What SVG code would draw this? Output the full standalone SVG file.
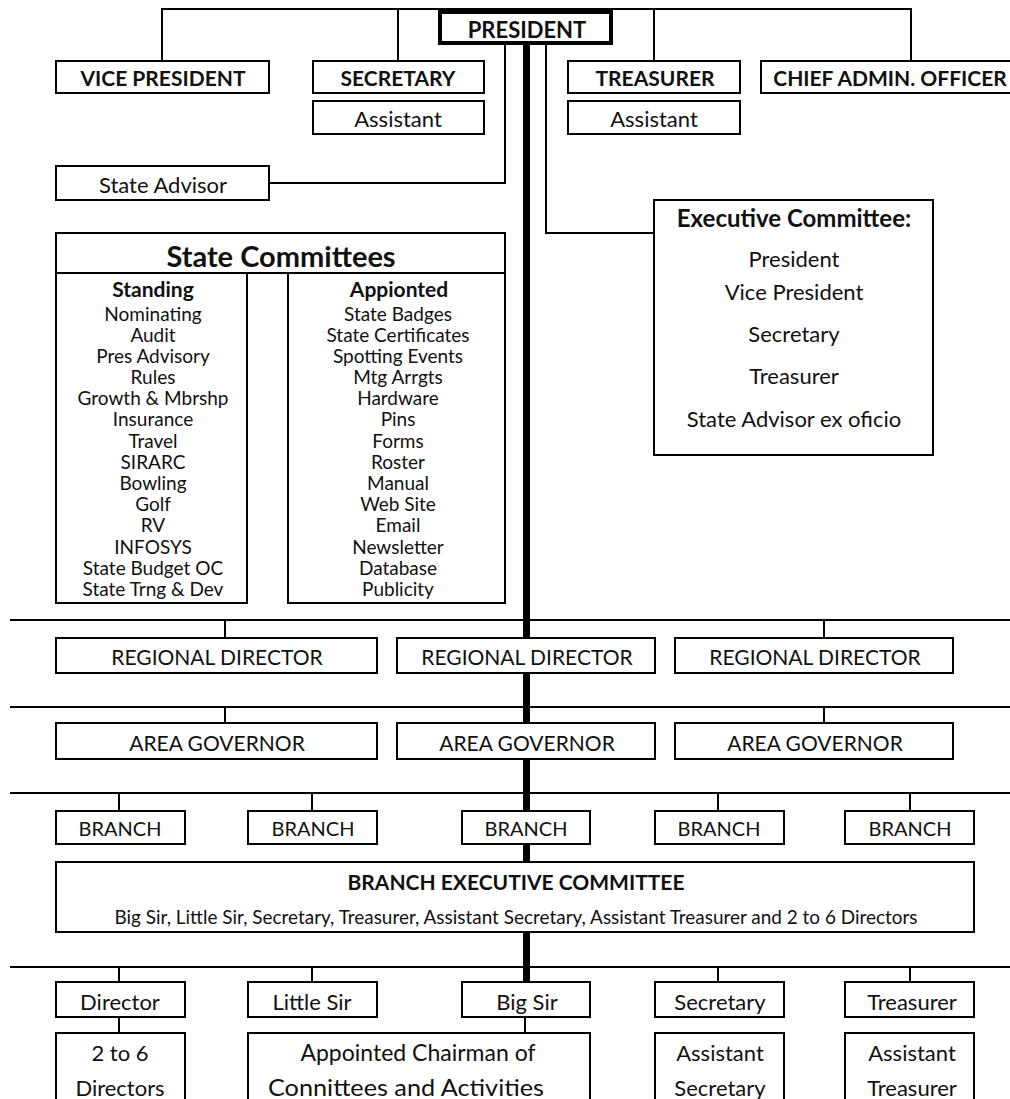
<svg xmlns="http://www.w3.org/2000/svg" width="1010" height="1099" viewBox="0 0 1010 1099">
<style>
text{font-family:Lato,"Liberation Sans",sans-serif;fill:#111;text-anchor:middle;dominant-baseline:central}
.box{fill:#fff;stroke:#000;stroke-width:2}
.ln{fill:none;stroke:#000;stroke-width:2}
.b{font-weight:bold;font-size:21px}
.r{font-size:22px}
.it{font-size:19px}
.cap{font-size:21px}
.br{font-size:20px}
.sm{font-size:19px}
.hd{font-weight:bold;font-size:21px}
</style>
<rect width="1010" height="1099" fill="#fff"/>
<g id="connectors">
<path class="ln" d="M162,61V9H911V61M398,9V61M654,9V61"/>
<path class="ln" d="M505,45V183H269M546,45V233H654"/>
<path class="ln" d="M10,620H1010M225,620V638M824,620V638"/>
<path class="ln" d="M10,707H1010M225,707V723M824,707V723"/>
<path class="ln" d="M10,793H1010M119,793V811M312,793V811M718,793V811M910,793V811"/>
<path class="ln" d="M10,967H1010M119,967V982M312,967V982M718,967V982M910,967V982"/>
<path class="ln" d="M119,1017V1033M525,1017V1033"/>
<rect x="523" y="45" width="7" height="938" fill="#000"/>
</g>
<g id="president"><rect x="440" y="12" width="171" height="31" fill="#fff" stroke="#000" stroke-width="4"/><text class="b" x="527" y="29" style="font-size:22px">PRESIDENT</text></g>
<g id="vice-president"><rect class="box" x="56" y="61" width="213" height="32"/><text class="b" x="163" y="77">VICE PRESIDENT</text></g>
<g id="secretary"><rect class="box" x="313" y="61" width="171" height="32"/><text class="b" x="398" y="77">SECRETARY</text></g>
<g id="secretary-assistant"><rect class="box" x="313" y="101" width="171" height="33"/><text class="r" x="398" y="118">Assistant</text></g>
<g id="treasurer"><rect class="box" x="568" y="61" width="172" height="32"/><text class="b" x="655" y="77">TREASURER</text></g>
<g id="treasurer-assistant"><rect class="box" x="568" y="101" width="172" height="33"/><text class="r" x="654" y="118">Assistant</text></g>
<g id="cao"><rect class="box" x="761" y="61" width="270" height="32"/><text class="b" x="890" y="77">CHIEF ADMIN. OFFICER</text></g>
<g id="state-advisor"><rect class="box" x="56" y="166" width="213" height="34"/><text class="r" x="163" y="184">State Advisor</text></g>
<g id="state-committees">
<rect class="box" x="56" y="233" width="449" height="40"/>
<text x="281" y="255" style="font-weight:bold;font-size:29px">State Committees</text>
<rect class="box" x="56" y="273" width="191" height="330"/>
<rect class="box" x="288" y="273" width="217" height="330"/>
<text class="hd" x="153" y="288">Standing</text>
<text class="hd" x="399" y="288">Appionted</text>
<g class="it">
<text x="153" y="313">Nominating</text><text x="153" y="334">Audit</text><text x="153" y="355">Pres Advisory</text><text x="153" y="376">Rules</text><text x="153" y="397">Growth &amp; Mbrshp</text><text x="153" y="418">Insurance</text><text x="153" y="440">Travel</text><text x="153" y="461">SIRARC</text><text x="153" y="482">Bowling</text><text x="153" y="503">Golf</text><text x="153" y="524">RV</text><text x="153" y="546">INFOSYS</text><text x="153" y="567">State Budget OC</text><text x="153" y="588">State Trng &amp; Dev</text>
<text x="398" y="313">State Badges</text><text x="398" y="334">State Certificates</text><text x="398" y="355">Spotting Events</text><text x="398" y="376">Mtg Arrgts</text><text x="398" y="397">Hardware</text><text x="398" y="418">Pins</text><text x="398" y="440">Forms</text><text x="398" y="461">Roster</text><text x="398" y="482">Manual</text><text x="398" y="503">Web Site</text><text x="398" y="524">Email</text><text x="398" y="546">Newsletter</text><text x="398" y="567">Database</text><text x="398" y="588">Publicity</text>
</g>
</g>
<g id="executive-committee">
<rect class="box" x="654" y="200" width="279" height="255"/>
<text class="b" x="794" y="217" style="font-size:24px">Executive Committee:</text>
<text class="r" x="794" y="258">President</text>
<text class="r" x="794" y="291">Vice President</text>
<text class="r" x="794" y="333">Secretary</text>
<text class="r" x="794" y="375">Treasurer</text>
<text class="r" x="794" y="418">State Advisor ex oficio</text>
</g>
<g id="rd1"><rect class="box" x="56" y="638" width="321" height="35"/><text class="cap" x="217" y="656">REGIONAL DIRECTOR</text></g>
<g id="rd2"><rect class="box" x="397" y="638" width="258" height="35"/><text class="cap" x="527" y="656">REGIONAL DIRECTOR</text></g>
<g id="rd3"><rect class="box" x="675" y="638" width="278" height="35"/><text class="cap" x="815" y="656">REGIONAL DIRECTOR</text></g>
<g id="ag1"><rect class="box" x="56" y="723" width="321" height="36"/><text class="cap" x="217" y="742">AREA GOVERNOR</text></g>
<g id="ag2"><rect class="box" x="397" y="723" width="258" height="36"/><text class="cap" x="527" y="742">AREA GOVERNOR</text></g>
<g id="ag3"><rect class="box" x="675" y="723" width="278" height="36"/><text class="cap" x="815" y="742">AREA GOVERNOR</text></g>
<g id="branch1"><rect class="box" x="56" y="811" width="129" height="33"/><text class="br" x="120" y="828">BRANCH</text></g>
<g id="branch2"><rect class="box" x="248" y="811" width="129" height="33"/><text class="br" x="313" y="828">BRANCH</text></g>
<g id="branch3"><rect class="box" x="462" y="811" width="128" height="33"/><text class="br" x="526" y="828">BRANCH</text></g>
<g id="branch4"><rect class="box" x="655" y="811" width="129" height="33"/><text class="br" x="719" y="828">BRANCH</text></g>
<g id="branch5"><rect class="box" x="845" y="811" width="129" height="33"/><text class="br" x="910" y="828">BRANCH</text></g>
<g id="branch-executive-committee"><rect class="box" x="56" y="862" width="918" height="70"/>
<text x="516" y="881" style="font-weight:bold;font-size:21px">BRANCH EXECUTIVE COMMITTEE</text>
<text class="sm" x="516" y="916" textLength="803" lengthAdjust="spacingAndGlyphs">Big Sir, Little Sir, Secretary, Treasurer, Assistant Secretary, Assistant Treasurer and 2 to 6 Directors</text></g>
<g id="director"><rect class="box" x="56" y="982" width="129" height="35"/><text class="r" x="120" y="1001">Director</text></g>
<g id="little-sir"><rect class="box" x="248" y="982" width="129" height="35"/><text class="r" x="312" y="1001">Little Sir</text></g>
<g id="big-sir"><rect class="box" x="462" y="982" width="128" height="35"/><text class="r" x="527" y="1001">Big Sir</text></g>
<g id="b-secretary"><rect class="box" x="655" y="982" width="129" height="35"/><text class="r" x="720" y="1001">Secretary</text></g>
<g id="b-treasurer"><rect class="box" x="845" y="982" width="129" height="35"/><text class="r" x="912" y="1001">Treasurer</text></g>
<g id="directors"><rect class="box" x="56" y="1033" width="129" height="80"/><text class="r" x="120" y="1052">2 to 6</text><text class="r" x="120" y="1087">Directors</text></g>
<g id="appointed-chairman"><rect class="box" x="248" y="1033" width="342" height="80"/><text class="r" x="418" y="1052" style="font-size:23px">Appointed Chairman of</text><text class="r" x="406" y="1087" style="font-size:23px" textLength="276" lengthAdjust="spacingAndGlyphs">Connittees and Activities</text></g>
<g id="asst-secretary"><rect class="box" x="655" y="1033" width="129" height="80"/><text class="r" x="720" y="1052">Assistant</text><text class="r" x="720" y="1087">Secretary</text></g>
<g id="asst-treasurer"><rect class="box" x="845" y="1033" width="129" height="80"/><text class="r" x="912" y="1052">Assistant</text><text class="r" x="912" y="1087">Treasurer</text></g>
</svg>
